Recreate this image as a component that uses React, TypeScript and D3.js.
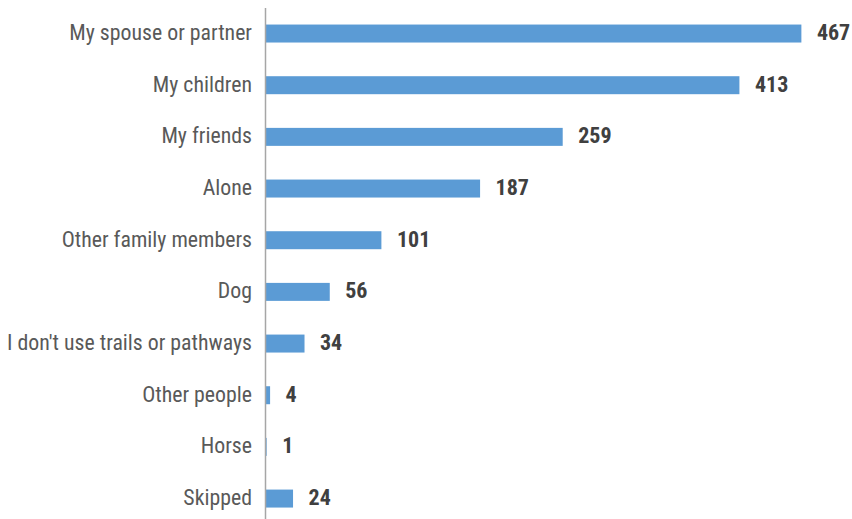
import React from "react";
import * as d3 from "d3";

const categories = [
  "My spouse or partner",
  "My children",
  "My friends",
  "Alone",
  "Other family members",
  "Dog",
  "I don't use trails or pathways",
  "Other people",
  "Horse",
  "Skipped",
];
const values = [467, 413, 259, 187, 101, 56, 34, 4, 1, 24];

const W = 852;
const H = 519;
const FONT = "'Liberation Sans Narrow', 'Roboto Condensed', 'DejaVu Sans Condensed', sans-serif";

export default function App() {
  const x = d3.scaleLinear().domain([0, 500]).range([265.5, 265.5 + 500 * 1.1475]);
  const y = d3
    .scaleBand<string>()
    .domain(categories)
    .range([7.7, 524.4])
    .paddingInner(0.652)
    .paddingOuter(0.326);
  const bw = y.bandwidth();
  return (
    <svg
      width={W}
      height={H}
      style={{ position: "absolute", left: 0, top: 0, background: "#fff" }}
      fontFamily={FONT}
    >
      {categories.map((c, i) => {
        const yy = y(c)!;
        return (
          <g key={c}>
            <rect x={x(0)} y={yy} width={x(values[i]) - x(0)} height={bw} fill="#5b9bd5" />
            <text
              x={252}
              y={yy + bw / 2}
              dy="0.3em"
              textAnchor="end"
              fontSize={21.8}
              fill="#595959"
            >
              {c}
            </text>
            <text
              x={x(values[i]) + 15.5}
              y={yy + bw / 2}
              dy="0.3em"
              fontSize={22}
              fontWeight="bold"
              fill="#404040"
            >
              {values[i]}
            </text>
          </g>
        );
      })}
      <line x1={x(0)} x2={x(0)} y1={8} y2={H} stroke="#a6a6a6" strokeWidth={1.5} />
    </svg>
  );
}
